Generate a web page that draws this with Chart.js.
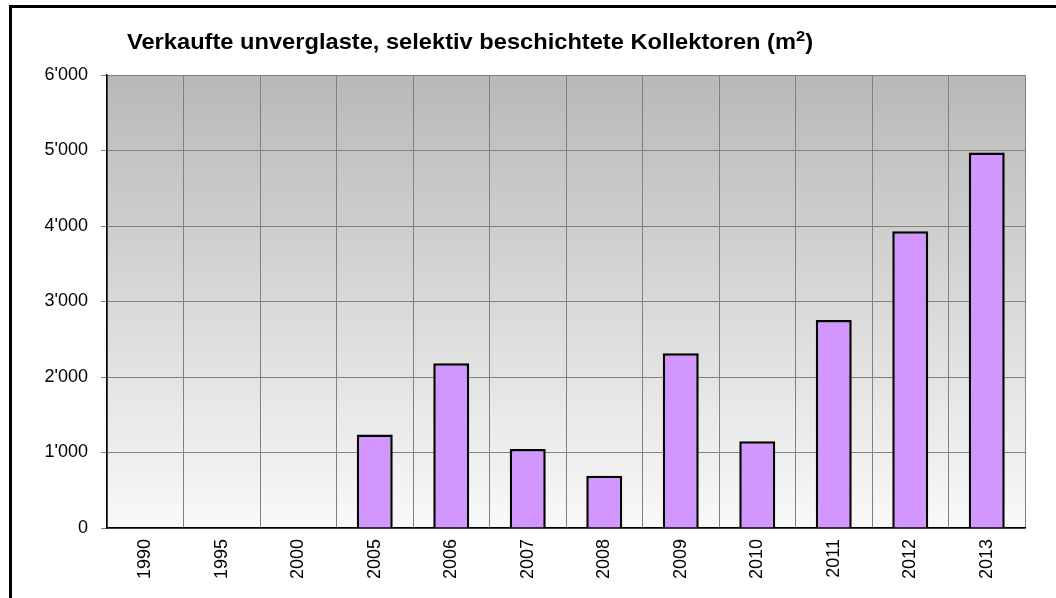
<!DOCTYPE html>
<html>
<head>
<meta charset="utf-8">
<script src="https://cdn.jsdelivr.net/npm/chart.js@4.4.1/dist/chart.umd.min.js"></script>
<style>
  body { margin: 0; background: #fff; }
  #wrap { position: relative; width: 1056px; height: 598px; overflow: hidden; }
  #frame { position: absolute; left: 9px; top: 5px; right: -10px; bottom: -10px;
           border-left: 3px solid #000; border-top: 3px solid #000; pointer-events: none; }
  #title { position: absolute; left: 127px; top: 30px; font: bold 21.5px "Liberation Sans", Arial, sans-serif;
           line-height: 24px; color: #000; white-space: nowrap;
           transform: scaleX(1.1); transform-origin: left top; }
  #title sup { font-size: 15px; vertical-align: baseline; position: relative; top: -8px; line-height: 0; }
  canvas { position: absolute; left: 0; top: 0; }
</style>
</head>
<body>
<div id="wrap">
  <canvas id="c" width="1056" height="598"></canvas>
  <div id="frame"></div>
  <div id="title">Verkaufte unverglaste, selektiv beschichtete Kollektoren (m<sup>2</sup>)</div>
</div>
<script>
var years = ['1990','1995','2000','2005','2006','2007','2008','2009','2010','2011','2012','2013'];
var sold = [0, 0, 0, 1240, 2183, 1045, 692, 2315, 1150, 2755, 3930, 4975];
var yTicks = [0, 1000, 2000, 3000, 4000, 5000, 6000];

function fmt(v){
  return String(v).replace(/\B(?=(\d{3})+(?!\d))/g, "'");
}

// grey gradient behind the plot
var bgPlugin = {
  id: 'plotbg',
  beforeDraw: function(chart){
    var a = chart.chartArea, ctx = chart.ctx;
    var g = ctx.createLinearGradient(0, a.top, 0, a.bottom);
    g.addColorStop(0, '#b8b8b8');
    g.addColorStop(1, '#f9f9f9');
    ctx.save();
    ctx.fillStyle = g;
    ctx.fillRect(a.left, a.top, a.right - a.left, a.bottom - a.top);
    ctx.restore();
  }
};

var font = { family: '"Liberation Sans", Arial, sans-serif', size: 18 };

new Chart(document.getElementById('c'), {
  type: 'bar',
  data: {
    labels: years,
    datasets: [{
      data: sold,
      backgroundColor: '#d396ff',
      borderColor: '#000',
      borderWidth: 2.5,
      barPercentage: 0.47,
      categoryPercentage: 1
    }]
  },
  options: {
    responsive: false,
    animation: false,
    layout: { padding: { left: 12, top: 75, right: 31, bottom: 0 } },
    plugins: { legend: { display: false }, tooltip: { enabled: false } },
    scales: {
      x: {
        grid: { color: '#808080', lineWidth: 1, drawTicks: false },
        border: { color: '#000', width: 1.5 },
        ticks: { color: '#000', font: font, minRotation: 90, maxRotation: 90, padding: 11 },
        afterFit: function(s){ s.height = 70; }
      },
      y: {
        min: 0, max: 6000,
        afterBuildTicks: function(s){ s.ticks = yTicks.map(function(v){ return { value: v }; }); },
        grid: { color: '#808080', lineWidth: 1, tickLength: 6 },
        border: { color: '#000', width: 1.5 },
        ticks: { color: '#000', font: font, padding: 13, callback: function(v){ return fmt(v); } },
        afterFit: function(s){ s.width = 95; }
      }
    }
  },
  plugins: [bgPlugin]
});
</script>
</body>
</html>
